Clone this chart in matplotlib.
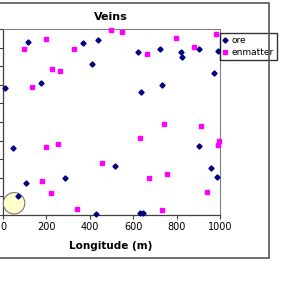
import matplotlib.pyplot as plt
from matplotlib.patches import Ellipse, Rectangle

# values (m)
ore_x = [117, 9, 174, 369, 438, 410, 621, 636, 725, 820, 826, 903, 991, 972, 734,
         46, 106, 284, 71, 518, 427, 630, 647, 905, 957, 985]
ore_y = [930, 685, 710, 925, 943, 814, 876, 660, 891, 875, 848, 891, 883, 765, 701,
         358, 172, 199, 100, 265, 4, 12, 12, 369, 251, 203]
enm_x = [197, 95, 326, 224, 261, 134, 498, 550, 664, 797, 982, 882, 200, 253, 178,
         221, 633, 456, 671, 342, 743, 912, 994, 992, 754, 941, 733]
enm_y = [948, 891, 891, 785, 774, 687, 996, 982, 864, 950, 975, 903, 366, 383, 185,
         120, 412, 278, 197, 34, 491, 477, 400, 375, 222, 124, 27]
xticks = [0, 200, 400, 600, 800, 1000]
yticks = list(range(0, 1001, 100))

fig = plt.figure(figsize=(3, 3), dpi=100)
fig.patch.set_facecolor('white')

# chart area border (left side is cropped away)
fig.patches.append(Rectangle((-0.02, 42/300), 269/300 + 0.02, 255/300,
                             transform=fig.transFigure, fill=False,
                             edgecolor='#555555', lw=1.2))

ax = fig.add_axes([3/300, 85/300, 217/300, 186/300])
ax.set_xlim(0, 1000)
ax.set_ylim(0, 1000)

ax.plot(ore_x, ore_y, linestyle='none', marker='D', ms=2.6, color='#000080',
        label='ore', clip_on=False, zorder=4)
ax.plot(enm_x, enm_y, linestyle='none', marker='s', ms=2.6, color='#ff00ff',
        mec='#ff00ff', label='enmatter', clip_on=False, zorder=4)

# highlighted spot
ax.add_patch(Ellipse((51, 63), 99, 115, facecolor='#ffffcc', edgecolor='#777777',
                     lw=0.8, clip_on=False, zorder=3))

ax.set_xticks(xticks)
ax.set_xticklabels([str(t) for t in xticks], fontsize=7)
ax.set_yticks(yticks)
ax.set_yticklabels([])
ax.tick_params(axis='both', direction='out', length=3, width=0.8, color='#404040', pad=2)

for s in ['left', 'bottom']:
    ax.spines[s].set_color('#404040')
    ax.spines[s].set_linewidth(0.9)
for s in ['top', 'right']:
    ax.spines[s].set_color('#808080')
    ax.spines[s].set_linestyle((0, (1, 1)))
    ax.spines[s].set_linewidth(0.8)

fig.text(111/300, 283/300, 'Veins', ha='center', va='center', fontsize=8, fontweight='bold')
fig.text(111/300, 54/300, 'Longitude (m)', ha='center', va='center', fontsize=7.5, fontweight='bold')

leg = ax.legend(loc='upper left', bbox_to_anchor=(220/300, 267/300),
                bbox_transform=fig.transFigure, borderaxespad=0, fontsize=6.5,
                fancybox=False, frameon=True, edgecolor='black', handlelength=0.5,
                handletextpad=0.5, borderpad=0.3, labelspacing=0.4)
leg.get_frame().set_linewidth(1.0)

fig.savefig('out.png', dpi=100)
